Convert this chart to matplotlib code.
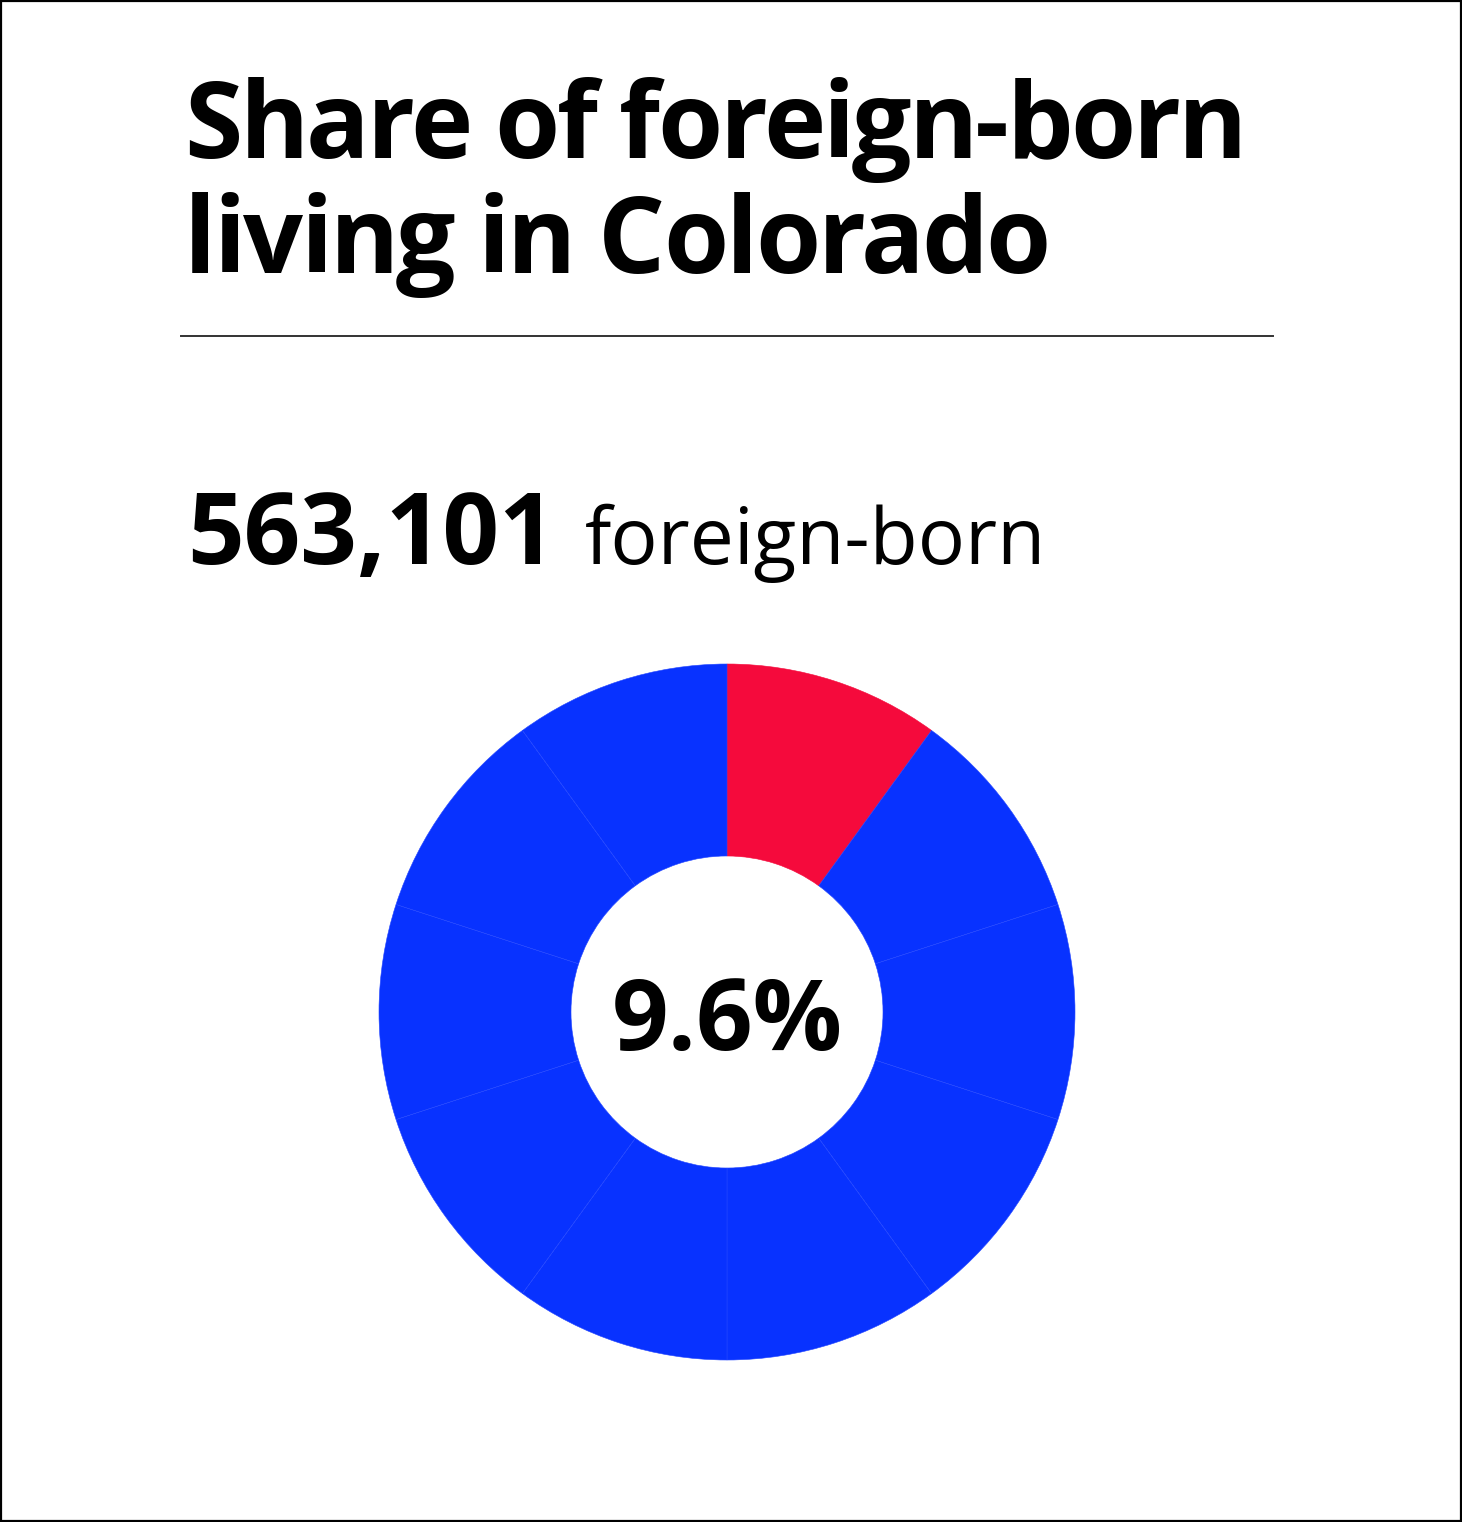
"""Donut: share of foreign-born residents in Colorado."""
import matplotlib
matplotlib.use("Agg")
import matplotlib.pyplot as plt
from matplotlib.font_manager import FontProperties
from matplotlib.patches import Rectangle

# data
title_lines = ["Share of foreign-born", "living in Colorado"]
foreign_born_count = "563,101"
count_label = "foreign-born"
share_label = "9.6%"
# donut is drawn as ten equal pieces, one of them highlighted
segment_sizes = [10, 10, 10, 10, 10, 10, 10, 10, 10, 10]
segment_is_foreign = [True, False, False, False, False, False, False, False, False, False]

RED = "#F50A3C"
BLUE = "#0832FF"

W, H, DPI = 1462, 1522, 100
fig = plt.figure(figsize=(W / DPI, H / DPI), dpi=DPI)
fig.patch.set_facecolor("white")
plt.rcParams["font.family"] = ["Open Sans", "DejaVu Sans"]
renderer = fig.canvas.get_renderer()


def fx(px):
    return px / W


def fy(py):
    # pixel from top -> figure fraction from bottom
    return 1 - py / H


def ink_width(s, prop):
    return renderer.get_text_width_height_descent(s, prop, ismath=False)[0]


def tracked_text(x_px, y_px, s, size, weight="normal", tracking=0.0):
    """Place s char by char so the title gets the tight letter-spacing of the original.
    Positions come from matplotlib's own measure of each prefix, so kerning is kept."""
    prop = FontProperties(family="Open Sans", weight=weight, size=size)
    for i, ch in enumerate(s):
        if ch.isspace():
            continue
        left = ink_width(s[:i + 1], prop) - ink_width(ch, prop)
        fig.text(fx(x_px + left + tracking * i), fy(y_px), ch,
                 fontproperties=prop, ha="left", va="baseline")


# outer frame
fig.add_artist(Rectangle((0.0007, 0.0007), 0.9986, 0.9986, transform=fig.transFigure,
                         fill=False, edgecolor="black", linewidth=1.6))

# title
tracked_text(184, 158, title_lines[0], 76, "bold", tracking=-2.75)
tracked_text(184, 273, title_lines[1], 76, "bold", tracking=-2.75)

# divider
fig.add_artist(plt.Line2D([fx(181), fx(1273)], [fy(336), fy(336)],
                          transform=fig.transFigure, color="#333333", linewidth=1.4))

# headline number
fig.text(fx(187), fy(564), foreign_born_count, fontsize=71.5, fontweight="bold",
         ha="left", va="baseline")
fig.text(fx(585), fy(564), count_label, fontsize=56.5, ha="left", va="baseline")

# donut
cx, cy, r_out, r_in = 727, 1012, 348, 156
ax = fig.add_axes([fx(cx - r_out), fy(cy + r_out), fx(2 * r_out), 2 * r_out / H])
colors = [RED if f else BLUE for f in segment_is_foreign]
ax.pie(segment_sizes, colors=colors, startangle=90, counterclock=False, radius=1,
       wedgeprops=dict(width=1 - r_in / r_out, linewidth=0.4, edgecolor="#2447ff"))
ax.patches[0].set_edgecolor(RED)
ax.set_xlim(-1, 1)
ax.set_ylim(-1, 1)
ax.set_aspect("equal")
ax.axis("off")
ax.text(0, -0.035, share_label, fontsize=71.5, fontweight="bold",
        ha="center", va="center")

fig.savefig("out.png", dpi=DPI)
